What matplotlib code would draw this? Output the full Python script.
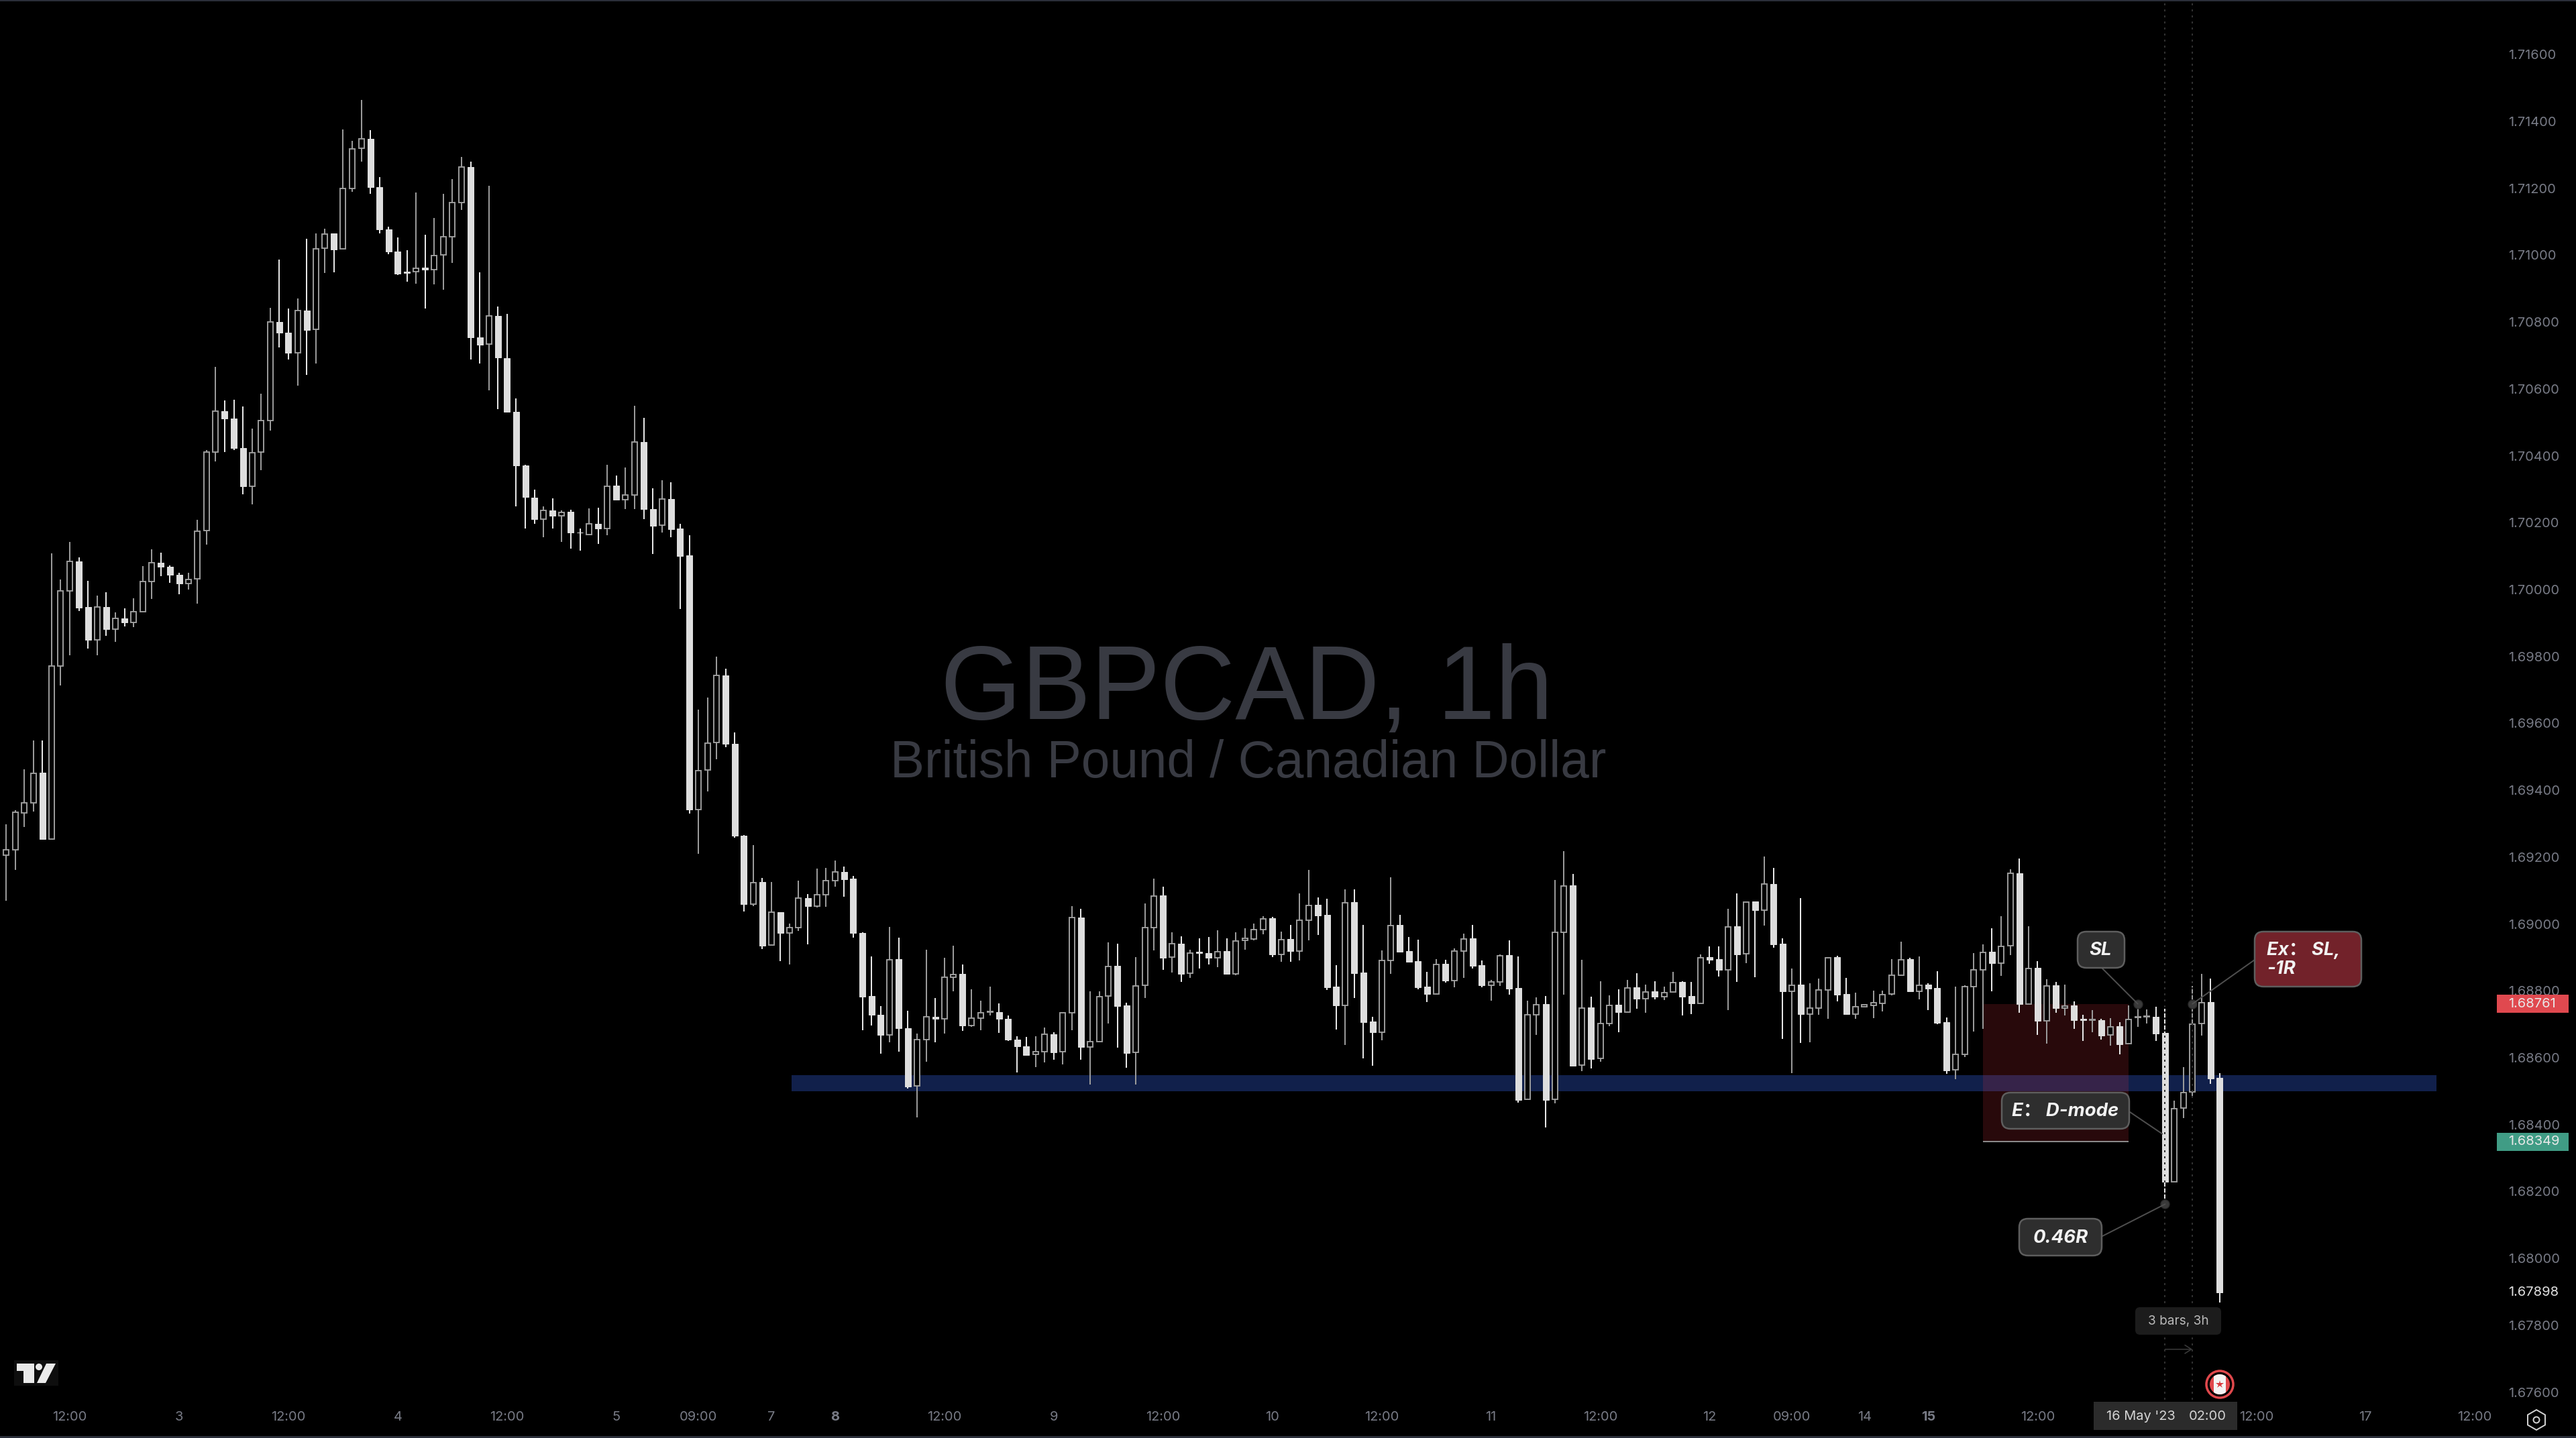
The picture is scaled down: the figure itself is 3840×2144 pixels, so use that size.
import matplotlib
matplotlib.use("Agg")
import matplotlib.pyplot as plt
from matplotlib.patches import FancyBboxPatch, Rectangle, Circle, Polygon, RegularPolygon
from matplotlib.lines import Line2D
from matplotlib.transforms import IdentityTransform, blended_transform_factory

W, H = 3840, 2144

# Prices in 1e-5 units
opens = [
 169206,169222,169332,169362,169452,169254,169772,169996,170084,169947,
 169850,169947,169882,169913,169902,169933,170024,170081,170068,170044,
 170018,170033,170176,170412,170533,170512,170423,170309,170411,170506,
 170801,170768,170708,170834,170778,171020,171065,171019,171200,171319,
 171347,171203,171078,171011,170951,170951,170962,170956,171000,171055,
 171158,171264,170754,170735,170819,170692,170532,170371,170274,170211,
 170237,170220,170233,170171,170165,170196,170182,170311,170269,170283,
 170441,170241,170192,170271,170182,170102,169343,169460,169542,169743,
 169538,169263,169060,169125,168936,169036,168974,168990,169078,169054,
 169088,169130,169155,169135,168974,168784,168729,168669,168894,168689,
 168515,168655,168723,168717,168840,168850,168697,168719,168737,168737,
 168717,168655,168635,168610,168618,168671,168617,168735,169020,168632,
 168649,168784,168874,168756,168615,168816,168990,169085,168900,168940,
 168852,168916,168913,168899,168918,168851,168950,168955,168984,169017,
 168909,168954,168919,169012,169057,169027,168812,168757,169065,168854,
 168708,168677,168891,168997,168919,168889,168812,168791,168881,168831,
 168919,168957,168877,168817,168827,168907,168808,168475,168729,168760,
 168475,168976,169115,168577,168750,168597,168703,168758,168737,168810,
 168777,168798,168783,168796,168826,168784,168763,168901,168895,168863,
 168993,168910,169067,169042,169119,168941,168799,168818,168731,168749,
 168802,168901,168790,168731,168753,168757,168763,168790,168846,168895,
 168799,168818,168808,168706,168563,168610,168812,168862,168916,168882,
 168935,169151,168760,168868,168710,168816,168748,168756,168716,168712,
 168712,168668,168694,168642,168720,168722,168722,168674,168228,168449,
 168497,168702,168766,168539]
highs = [
 169298,169340,169462,169548,169548,170108,170031,170142,170096,170027,
 169981,169992,169932,169944,169973,170071,170120,170111,170073,170050,
 170051,170208,170417,170665,170566,170567,170547,170481,170586,170842,
 170986,170840,170870,171048,171066,171080,171065,171375,171341,171465,
 171373,171233,171085,171052,171014,171187,171060,171112,171183,171227,
 171293,171280,170948,171207,170847,170825,170572,170374,170299,170248,
 170272,170236,170239,170183,170242,170245,170374,170340,170365,170549,
 170513,170303,170327,170321,170196,170162,169640,169677,169799,169763,
 169573,169265,169236,169137,169125,169036,169001,169129,169089,169165,
 169167,169189,169171,169143,168975,168903,168754,168992,168958,168740,
 168672,168923,168778,168898,168935,168879,168804,168770,168812,168762,
 168726,168665,168662,168665,168691,168677,168737,169053,169045,168798,
 168798,168945,168941,168764,168900,169061,169135,169111,168975,168963,
 168923,168957,168961,168981,168957,168975,168987,169001,169023,169021,
 168977,168997,169091,169161,169079,169076,168877,169103,169103,168997,
 168722,168921,169139,169027,168961,168953,168856,168895,168893,168927,
 168971,168997,168891,168832,168909,168951,168903,168770,168780,168784,
 169131,169218,169149,168893,168782,168828,168786,168804,168832,168852,
 168818,168828,168812,168856,168828,168826,168909,168933,168933,169045,
 169091,169066,169067,169202,169167,168957,168867,169077,168822,168836,
 168900,168905,168838,168794,168758,168800,168800,168895,168947,168899,
 168903,168822,168858,168720,168812,168816,168912,168939,168987,169023,
 169163,169195,168993,168888,168834,168826,168818,168768,168728,168742,
 168716,168718,168706,168756,168762,168744,168752,168746,168471,168571,
 168814,168850,168836,168553]
lows = [
 169070,169162,169290,169336,169254,169254,169714,169803,169935,169823,
 169803,169861,169843,169889,169887,169933,169972,170041,170021,169985,
 169999,169958,170134,170384,170411,170418,170285,170254,170357,170475,
 170725,170687,170610,170641,170676,170946,170948,171019,171190,171280,
 171183,171066,171002,170940,170920,170914,170840,170913,170897,170976,
 171135,170687,170675,170596,170540,170532,170248,170183,170196,170156,
 170182,170143,170122,170116,170162,170137,170163,170268,170240,170240,
 170210,170107,170171,170156,169941,169330,169210,169397,169493,169529,
 169258,169038,169054,168925,168936,168889,168879,168980,168939,169049,
 169051,169111,169081,168959,168682,168696,168612,168646,168618,168508,
 168421,168588,168646,168672,168798,168680,168692,168682,168726,168674,
 168650,168556,168608,168572,168586,168594,168580,168682,168594,168519,
 168646,168702,168630,168570,168519,168778,168921,168863,168854,168826,
 168838,168867,168879,168871,168848,168846,168923,168951,168969,168901,
 168887,168887,168891,168951,168967,168802,168684,168638,168778,168598,
 168576,168652,168850,168915,168887,168804,168766,168791,168824,168810,
 168838,168867,168810,168770,168814,168788,168465,168475,168668,168391,
 168463,168788,168576,168560,168568,168588,168694,168676,168734,168746,
 168734,168774,168772,168796,168726,168730,168761,168881,168842,168742,
 168826,168883,168840,168995,168929,168656,168554,168644,168646,168728,
 168716,168768,168730,168716,168753,168718,168738,168787,168844,168796,
 168774,168742,168700,168551,168535,168602,168678,168686,168798,168844,
 168906,168734,168760,168668,168642,168734,168726,168686,168650,168676,
 168654,168636,168610,168642,168692,168702,168650,168162,168228,168419,
 168483,168666,168521,167867]
closes = [
 169222,169334,169362,169450,169254,169771,169996,170084,169945,169850,
 169947,169882,169913,169902,169933,170024,170081,170068,170045,170018,
 170031,170174,170411,170533,170512,170423,170308,170409,170506,170801,
 170768,170707,170834,170776,171019,171063,171017,171200,171318,171347,
 171203,171078,171011,170945,170946,170960,170956,170999,171055,171157,
 171264,170754,170733,170819,170693,170532,170372,170276,170210,170236,
 170220,170231,170170,170170,170196,170182,170309,170269,170282,170441,
 170240,170191,170270,170180,170101,169342,169459,169541,169743,169538,
 169263,169060,169124,168935,169036,168974,168990,169078,169053,169088,
 169130,169155,169134,168974,168782,168729,168669,168893,168689,168513,
 168655,168723,168717,168840,168849,168697,168719,168735,168739,168716,
 168654,168634,168608,168618,168671,168616,168735,169019,168632,168649,
 168783,168873,168754,168614,168815,168990,169084,168899,168940,168850,
 168913,168913,168899,168917,168850,168949,168956,168984,169016,168909,
 168953,168919,169012,169056,169025,168810,168756,169064,168852,168706,
 168676,168891,168996,168917,168887,168810,168790,168879,168830,168919,
 168955,168875,168816,168827,168905,168806,168473,168729,168759,168473,
 168976,169114,168576,168749,168596,168703,168757,168736,168809,168776,
 168797,168782,168795,168824,168782,168762,168899,168893,168862,168992,
 168909,169066,169041,169119,168939,168798,168817,168730,168749,168802,
 168899,168788,168730,168753,168758,168764,168789,168847,168893,168798,
 168817,168806,168704,168561,168610,168812,168862,168914,168882,168933,
 169151,168760,168866,168710,168814,168748,168754,168712,168712,168714,
 168666,168692,168640,168714,168722,168724,168672,168228,168447,168495,
 168700,168764,168537,167898]

price_ticks = [1.67600 + 0.002 * k for k in range(21)]
time_tick_bars = [7, 19, 31, 43, 55, 67, 76, 84, 91, 103, 115, 127, 139, 151, 163, 175,
                  187, 196, 204, 211, 223, 247, 259, 271]
time_tick_labels = ["12:00", "3", "12:00", "4", "12:00", "5", "09:00", "7", "8", "12:00", "9",
                    "12:00", "10", "12:00", "11", "12:00", "12", "09:00", "14", "15", "12:00",
                    "12:00", "17", "12:00"]

zone_low, zone_high = 1.68499, 1.68547
zone_bars = (86.2, 266.8)
trade_bars = (217, 233)
stop_price, entry_price = 1.68761, 1.68349
last_price = 1.67898
marker_bars = (237, 240)

plt.rcParams["font.family"] = ["Inter", "Noto Sans CJK SC", "DejaVu Sans"]
BG = "#000000"
GREY = "#787B86"
px = 0.72  # points per pixel at dpi 100

fig = plt.figure(figsize=(W / 100, H / 100), dpi=100, facecolor=BG)
ax = fig.add_axes([0, (H - 2087) / H, 3702 / W, (2087 - 2) / H], facecolor=BG)
for s in ax.spines.values():
    s.set_visible(False)

S = 13.58
ax.set_xlim(-9 / S, (3702 - 9) / S)
ax.set_ylim(1.67577, 1.71759)
ident = IdentityTransform()

# zone and trade box
ax.add_patch(Rectangle((zone_bars[0], zone_low), zone_bars[1] - zone_bars[0], zone_high - zone_low,
                       facecolor="#11204B", edgecolor="none", zorder=1))
ax.add_patch(Rectangle((trade_bars[0], entry_price), trade_bars[1] - trade_bars[0], stop_price - entry_price,
                       facecolor="#F23645", alpha=0.17, edgecolor="none", zorder=1.5))
ax.plot(trade_bars, [entry_price, entry_price], color="#8A8A8A", lw=2 * px, zorder=1.6, solid_capstyle="butt")

# candles
for i, (o, h, l, c) in enumerate(zip(opens, highs, lows, closes)):
    o, h, l, c = o / 1e5, h / 1e5, l / 1e5, c / 1e5
    up = c >= o
    ax.vlines(i, l, h, color="#9A9A9A" if up else "#E6E6E6", lw=2 * px, zorder=2)
    top, bot = max(o, c), min(o, c)
    if up:
        ax.add_patch(Rectangle((i - 4 / S, bot), 8 / S, top - bot, facecolor=BG, edgecolor="#989898",
                               lw=2 * px, zorder=3))
    else:
        ax.add_patch(Rectangle((i - 4.5 / S, bot), 9 / S, top - bot, facecolor="#DEDEDE", edgecolor="#DEDEDE",
                               lw=1 * px, zorder=3))

# dotted time markers
for b in marker_bars:
    ax.axvline(b, color="#303030", lw=2 * px, linestyle=(0, (1.5, 3)), zorder=4)

# axes ticks
ax.yaxis.tick_right()
ax.set_yticks(price_ticks)
ax.set_yticklabels([f"{p:.5f}" for p in price_ticks])
ax.set_xticks(time_tick_bars)
ax.set_xticklabels(time_tick_labels)
ax.tick_params(axis="y", length=0, pad=37 * px, labelsize=20 * px, labelcolor=GREY)
ax.tick_params(axis="x", length=0, pad=17 * px, labelsize=20 * px, labelcolor=GREY)
for t in ax.get_xticklabels():
    if t.get_text() in ("8", "15"):
        t.set_fontweight("bold")

# watermark
ax.text(1859, H - 1072, "GBPCAD, 1h", transform=ident, family="Liberation Sans", fontsize=155 * px,
        color="#383A42", ha="center", va="baseline", zorder=0.5, clip_on=False)
ax.text(1861, H - 1159, "British Pound / Canadian Dollar", transform=ident, family="Liberation Sans",
        fontsize=76.5 * px, color="#383A42", ha="center", va="baseline", zorder=0.5, clip_on=False)

# price tags
ytrans = blended_transform_factory(ident, ax.transData)
def tag(price, color):
    ax.add_patch(Rectangle((3722, price - 13.5 / 49850), 107, 27 / 49850, transform=ytrans, facecolor=color,
                           edgecolor="none", zorder=10, clip_on=False))
    ax.text(3739, price, f"{price:.5f}", transform=ytrans, color="#E8E8E8", fontsize=20 * px, va="center",
            ha="left", zorder=11, clip_on=False)
tag(stop_price, "#E0494F")
tag(entry_price, "#409C85")
ax.text(3739, last_price, f"{last_price:.5f}", transform=ytrans, color="#E0E0E0", fontsize=20 * px,
        va="center", ha="left", zorder=11, clip_on=False)

# anchors and callouts
anchors = [(234, stop_price), (237, 1.68162), (240, stop_price)]
for b, p in anchors:
    ax.plot([b], [p], marker="o", ms=13 * px, mfc="#3A3A3A", mec="#2A2A2A", mew=1, zorder=6)

def callout(x0, y0, x1, y1, face, start, end):
    """Rounded label placed in figure pixels, with a leader to a point."""
    ax.annotate("", xy=end, xycoords="data", xytext=(start[0], H - start[1]), textcoords="figure pixels",
                arrowprops=dict(arrowstyle="-", color="#4E4E4E", lw=2 * px, shrinkA=0, shrinkB=0), zorder=6)
    ax.add_patch(FancyBboxPatch((x0, H - y1), x1 - x0, y1 - y0, boxstyle="round,pad=0,rounding_size=13",
                                transform=ident, facecolor=face, edgecolor="#5E5E5E", lw=2.5 * px,
                                zorder=7, clip_on=False))

callout(3097, 1389, 3167, 1443, "#2E2E2E", (3134, 1444), (234, stop_price))
callout(3361, 1389, 3520, 1471, "#72222A", (3361, 1431), (240, stop_price))
callout(2984, 1629, 3174, 1683, "#2E2E2E", (3175, 1658), (236.7, 1.68372))
callout(3010, 1817, 3133, 1872, "#2E2E2E", (3134, 1843), (237, 1.68162))

lab = dict(transform=ident, color="#F2F2F2", fontsize=27.5 * px, fontweight="bold", fontstyle="italic",
           zorder=8, clip_on=False, va="center", family=["Inter", "Noto Sans CJK SC", "DejaVu Sans"])
ax.text(3131, H - 1417, "SL", ha="center", **lab)
ax.text(3379, H - 1417, "Ex： SL,", ha="left", **lab)
ax.text(3379, H - 1445, "-1R", ha="left", **lab)
ax.text(3079, H - 1657, "E： D-mode", ha="center", **lab)
ax.text(3071, H - 1846, "0.46R", ha="center", **lab)

# range measure
ax.add_patch(FancyBboxPatch((3183, H - 1990), 128, 41, boxstyle="round,pad=0,rounding_size=7", transform=ident,
                            facecolor="#1C1C1C", edgecolor="none", zorder=7, clip_on=False))
ax.text(3247, H - 1970, "3 bars, 3h", transform=ident, color="#B8B8B8", fontsize=19 * px, ha="center",
        va="center", zorder=8, clip_on=False)
ax.annotate("", xy=(marker_bars[1], 1.67728), xytext=(marker_bars[0], 1.67728),
            arrowprops=dict(arrowstyle="->,head_length=0.7,head_width=0.45", color="#3A3A3A", lw=1.6 * px,
                            shrinkA=0, shrinkB=0), zorder=6)

# Canada flag event marker
cx, cy = 3309, H - 2064
ax.add_patch(Circle((cx, cy), 20, transform=ident, facecolor=BG, edgecolor="#E0484C", lw=3.5 * px, zorder=7, clip_on=False))
flag = Circle((cx, cy), 15, transform=ident, facecolor="#E0484C", edgecolor="none", zorder=8, clip_on=False)
ax.add_patch(flag)
white = Rectangle((cx - 9, cy - 15), 18, 30, transform=ident, facecolor="#F4F4F4", edgecolor="none", zorder=9)
ax.add_patch(white)
white.set_clip_path(flag)
ax.add_line(Line2D([cx], [cy], transform=ident, marker="*", ms=13 * px, color="#D8383C", mew=0, zorder=10, clip_on=False))

# bottom time tag
ax.add_patch(Rectangle((3121, H - 2132), 214, 42, transform=ident, facecolor="#2B2B2B", edgecolor="none", zorder=7, clip_on=False))
ax.text(3191, H - 2112, "16 May '23", transform=ident, color="#D4D4D4", fontsize=20 * px, ha="center", va="center", zorder=8, clip_on=False)
ax.text(3291, H - 2112, "02:00", transform=ident, color="#D4D4D4", fontsize=20 * px, ha="center", va="center", zorder=8, clip_on=False)

# settings icon
ax.add_patch(RegularPolygon((3781, H - 2117), 6, radius=15, transform=ident, facecolor="none", edgecolor="#D0D0D0",
                            lw=2 * px, zorder=8, clip_on=False))
ax.add_patch(Circle((3781, H - 2117), 4.5, transform=ident, facecolor="none", edgecolor="#D0D0D0", lw=2 * px, zorder=8, clip_on=False))

# TradingView mark
ax.add_patch(Rectangle((21, H - 2066), 66, 38, transform=ident, facecolor="#0E0E0E", edgecolor="none", zorder=7, clip_on=False))
for pts in ([(25, 2033), (51, 2033), (51, 2062), (35, 2062), (35, 2044), (25, 2044)],
            [(69, 2033), (83, 2033), (68, 2062), (55, 2062)]):
    ax.add_patch(Polygon([(a, H - b) for a, b in pts], transform=ident, facecolor="#EAEAEA", edgecolor="none", zorder=8, clip_on=False))
ax.add_patch(Circle((58, H - 2038), 5, transform=ident, facecolor="#EAEAEA", edgecolor="none", zorder=8, clip_on=False))

# frame hairlines
ax.add_patch(Rectangle((0, H - 2), W, 2, transform=ident, facecolor="#2A2E39", edgecolor="none", zorder=12, clip_on=False))
ax.add_patch(Rectangle((0, 0), W, 3, transform=ident, facecolor="#2A2E39", edgecolor="none", zorder=12, clip_on=False))

ax.set_xlim(-9 / S, (3702 - 9) / S)
ax.set_ylim(1.67577, 1.71759)
fig.savefig("out.png", dpi=100, facecolor=BG)
